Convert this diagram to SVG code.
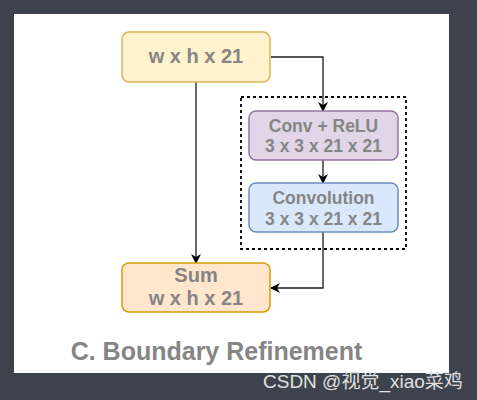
<svg xmlns="http://www.w3.org/2000/svg" width="477" height="400" viewBox="0 0 477 400">
<defs>
<style>
.t{font-family:"Liberation Sans",Arial,sans-serif;font-weight:bold;fill:#858585;text-anchor:middle}
.c{fill:none;stroke:#1a1a1a;stroke-width:1.3}
</style>
<marker id="ah" viewBox="0 0 10 10" refX="9" refY="5" markerWidth="10" markerHeight="10" markerUnits="userSpaceOnUse" orient="auto">
<path d="M0,0 L10,5 L0,10 L3,5 Z" fill="#000"/>
</marker>
</defs>
<rect x="0" y="0" width="477" height="400" fill="#3c434c"/>
<rect x="14" y="14" width="435" height="359" fill="#ffffff"/>
<g id="connectors">
<path class="c" d="M196,82 L196,263" marker-end="url(#ah)"/>
<path class="c" d="M271,57 L323,57 L323,111" marker-end="url(#ah)"/>
<path class="c" d="M323,160 L323,183" marker-end="url(#ah)"/>
<path class="c" d="M323,232 L323,288 L271,288" marker-end="url(#ah)"/>
</g>
<g id="group">
<rect x="241" y="97" width="165" height="152" fill="none" stroke="#000" stroke-width="1.8" stroke-dasharray="3,3"/>
</g>
<g id="input">
<rect x="122" y="32" width="148" height="50" rx="7" fill="#fff2cc" stroke="#d6b656" stroke-width="1.5"/>
<text class="t" x="196" y="63" font-size="20">w x h x 21</text>
</g>
<g id="convrelu">
<rect x="249" y="111" width="149" height="49" rx="7" fill="#e1d5e7" stroke="#9673a6" stroke-width="1.5"/>
<text class="t" x="323.5" y="132" font-size="17.5">Conv + ReLU</text>
<text class="t" x="323.5" y="152" font-size="17.5">3 x 3 x 21 x 21</text>
</g>
<g id="convolution">
<rect x="249" y="183" width="149" height="49" rx="7" fill="#dae8fc" stroke="#6c8ebf" stroke-width="1.5"/>
<text class="t" x="323.5" y="204" font-size="17.5">Convolution</text>
<text class="t" x="323.5" y="225" font-size="17.5">3 x 3 x 21 x 21</text>
</g>
<g id="sum">
<rect x="122" y="263" width="148" height="49" rx="7" fill="#ffe6cc" stroke="#d79b00" stroke-width="1.5"/>
<text class="t" x="196" y="282" font-size="20">Sum</text>
<text class="t" x="196" y="305" font-size="20">w x h x 21</text>
</g>
<text class="t" x="216.5" y="360" font-size="25">C. Boundary Refinement</text>
<text x="263" y="388" font-size="19" font-family="'Liberation Sans','Noto Sans CJK SC',sans-serif" fill="#e0e0e0">CSDN @视觉_xiao菜鸡</text>
</svg>
